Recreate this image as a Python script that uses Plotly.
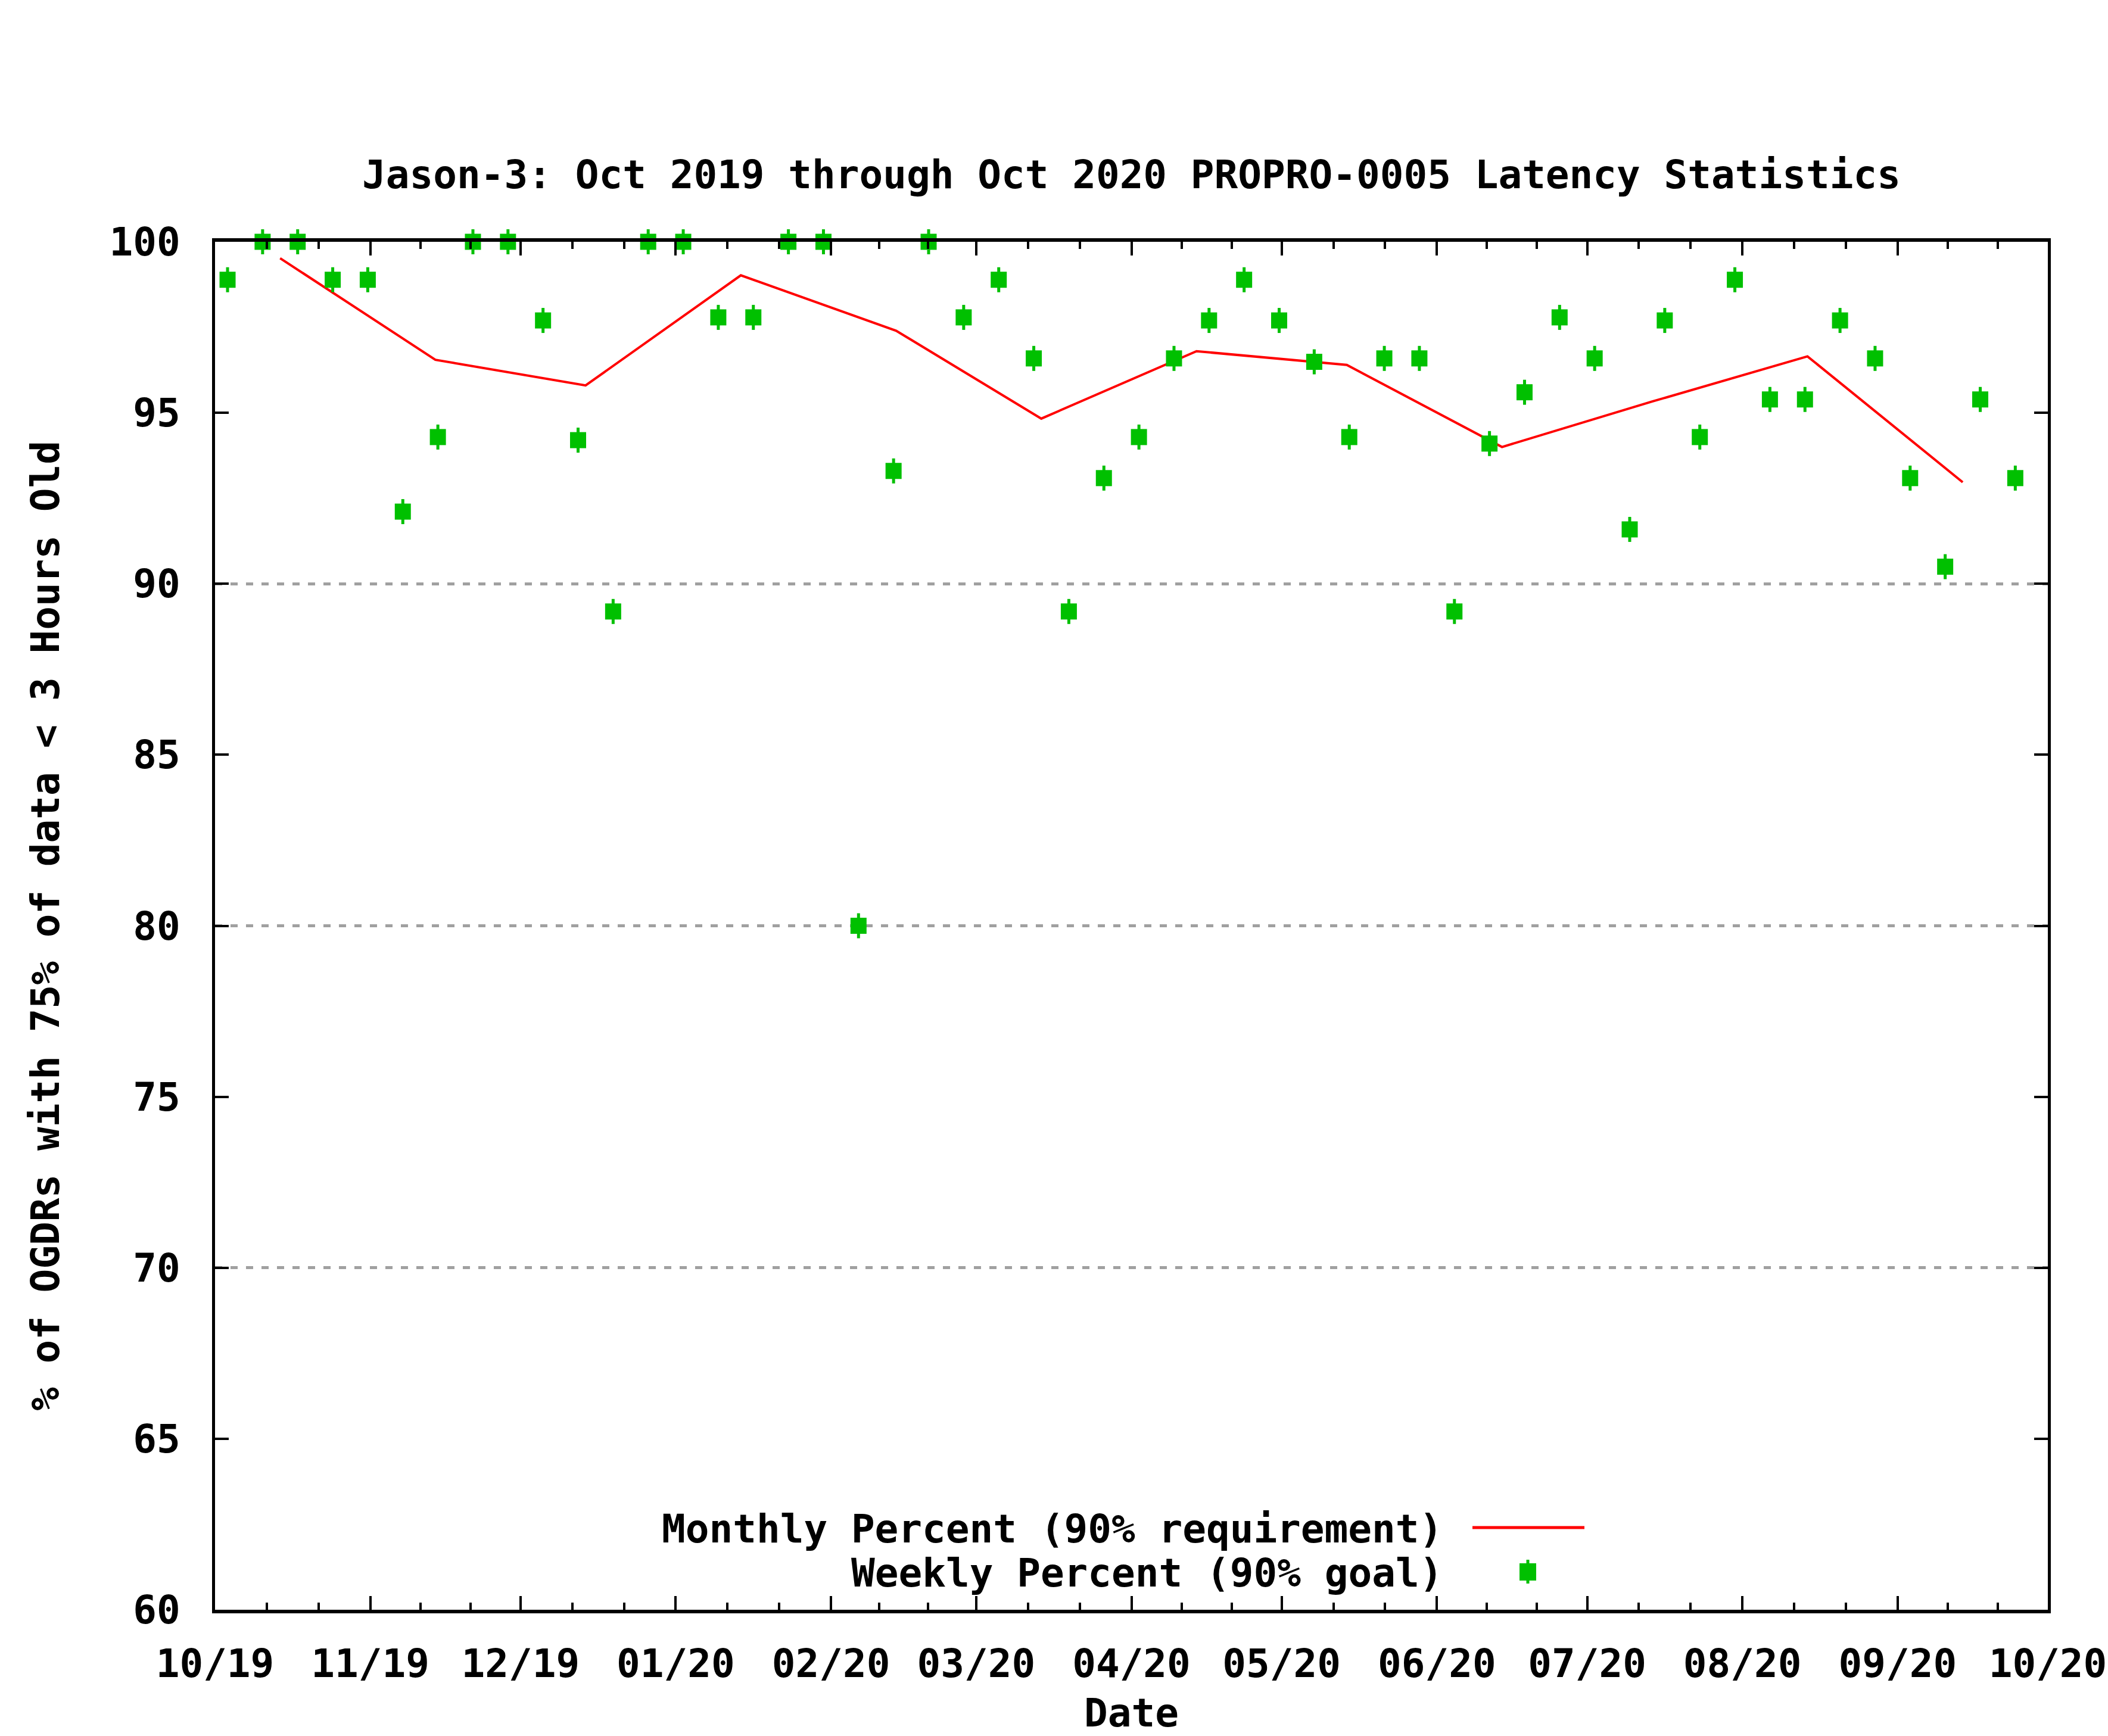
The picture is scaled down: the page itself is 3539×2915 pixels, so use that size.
import plotly.graph_objects as go
import pandas as pd

# ---------------- data ----------------
monthly_dates = ["2019-10-14", "2019-11-14", "2019-12-14", "2020-01-14", "2020-02-14",
                 "2020-03-14", "2020-04-14", "2020-05-14", "2020-06-14", "2020-07-14",
                 "2020-08-14", "2020-09-14"]
monthly_pct = [99.52, 96.55, 95.80, 99.02, 97.40, 94.83, 96.80, 96.40, 94.00, 95.33,
               96.65, 92.97]

weekly_dates = ["2019-10-03", "2019-10-10", "2019-10-17", "2019-10-24", "2019-10-31",
                "2019-11-07", "2019-11-14", "2019-11-21", "2019-11-28", "2019-12-05",
                "2019-12-12", "2019-12-19", "2019-12-26", "2020-01-02", "2020-01-09",
                "2020-01-16", "2020-01-23", "2020-01-30", "2020-02-06", "2020-02-13",
                "2020-02-20", "2020-02-27", "2020-03-05", "2020-03-12", "2020-03-19",
                "2020-03-26", "2020-04-02", "2020-04-09", "2020-04-16", "2020-04-23",
                "2020-04-30", "2020-05-07", "2020-05-14", "2020-05-21", "2020-05-28",
                "2020-06-04", "2020-06-11", "2020-06-18", "2020-06-25", "2020-07-02",
                "2020-07-09", "2020-07-16", "2020-07-23", "2020-07-30", "2020-08-06",
                "2020-08-13", "2020-08-20", "2020-08-27", "2020-09-03", "2020-09-10",
                "2020-09-17", "2020-09-24"]
weekly_dates = [d + " 12:00" for d in weekly_dates]
weekly_pct = [98.89, 100, 100, 98.89, 98.89, 92.11, 94.29, 100, 100, 97.70,
              94.20, 89.19, 100, 100, 97.79, 97.79, 100, 100, 80.0, 93.30,
              100, 97.79, 98.89, 96.59, 89.19, 93.09, 94.29, 96.59, 97.70, 98.89,
              97.70, 96.49, 94.29, 96.59, 96.59, 89.19, 94.10, 95.60, 97.79, 96.59,
              91.59, 97.70, 94.29, 98.89, 95.39, 95.39, 97.70, 96.59, 93.09, 90.50,
              95.39, 93.09]

title_text = "Jason-3: Oct 2019 through Oct 2020 PROPRO-0005 Latency Statistics"
y_title = "% of OGDRs with 75% of data < 3 Hours Old"
x_title = "Date"
monthly_label = "Monthly Percent (90% requirement)"
weekly_label = "Weekly Percent (90% goal)"
y_ticks = [60, 65, 70, 75, 80, 85, 90, 95, 100]
x_start, x_end = "2019-10-01", "2020-10-01"

RED = "#ff0000"
GREEN = "#00c000"
FONT = "DejaVu Sans Mono"
FS = 66

# minor x ticks: thirds of each month
month_starts = pd.date_range(x_start, x_end, freq="MS")
minor_vals = []
for a, b in zip(month_starts[:-1], month_starts[1:]):
    for k in (1, 2):
        minor_vals.append(a + (b - a) * k / 3)

fig = go.Figure()

fig.add_trace(go.Scatter(
    x=monthly_dates, y=monthly_pct, mode="lines",
    line=dict(color=RED, width=4), showlegend=False, cliponaxis=False,
))
# whiskers of weekly markers
fig.add_trace(go.Scatter(
    x=weekly_dates, y=weekly_pct, mode="markers", showlegend=False, cliponaxis=False,
    marker=dict(symbol="line-ns", size=30, line=dict(color=GREEN, width=5)),
))
# body of weekly markers
fig.add_trace(go.Scatter(
    x=weekly_dates, y=weekly_pct, mode="markers", showlegend=False, cliponaxis=False,
    marker=dict(symbol="square", size=27, color=GREEN, line=dict(width=0)),
))

# ----- manual gnuplot-style key -----
W = 3539
H = 2915
L, R, T, B = 361, W - 3438, 406, H - 2703
pw, ph = W - L - R, H - T - B


def px(x):
    return (x - L) / pw


def py(y):
    return (H - B - y) / ph


annotations = [
    dict(text=monthly_label, x=px(2424), y=py(2567), xref="paper", yref="paper",
         xanchor="right", yanchor="middle", showarrow=False),
    dict(text=weekly_label, x=px(2424), y=py(2641), xref="paper", yref="paper",
         xanchor="right", yanchor="middle", showarrow=False),
]
shapes = [
    dict(type="line", xref="paper", yref="paper", x0=px(2472), x1=px(2660),
         y0=py(2565), y1=py(2565), line=dict(color=RED, width=5)),
    dict(type="line", xref="paper", yref="paper", x0=px(2565), x1=px(2565),
         y0=py(2619), y1=py(2659), line=dict(color=GREEN, width=5)),
    dict(type="rect", xref="paper", yref="paper", x0=px(2551), x1=px(2579),
         y0=py(2625), y1=py(2654), line=dict(width=0), fillcolor=GREEN),
]

tfont = dict(family=FONT, size=FS, color="black", weight="bold")

fig.update_layout(
    width=W, height=H,
    margin=dict(l=L, r=R, t=T, b=B, autoexpand=False),
    paper_bgcolor="white", plot_bgcolor="white",
    font=tfont,
    title=dict(text=title_text, x=0.5, xref="paper", xanchor="center",
               y=1 - 293 / H, yref="container", yanchor="middle", font=tfont),
    showlegend=False,
    annotations=annotations,
    shapes=shapes,
    xaxis=dict(
        type="date", range=[x_start, x_end], automargin=False,
        tickmode="linear", tick0=x_start, dtick="M1", tickformat="%m/%y",
        ticks="inside", ticklen=23, tickwidth=4, tickcolor="black",
        showline=True, linecolor="black", linewidth=6, mirror="ticks",
        showgrid=False, zeroline=False, ticklabelstandoff=28,
        tickfont=tfont,
        minor=dict(tickmode="array", tickvals=minor_vals, ticks="inside",
                   ticklen=12, tickwidth=4, tickcolor="black", showgrid=False),
        title=dict(text=x_title, standoff=52, font=tfont),
    ),
    yaxis=dict(
        range=[60, 100], tickmode="array", tickvals=y_ticks, automargin=False,
        ticks="inside", ticklen=23, tickwidth=4, tickcolor="black",
        showline=True, linecolor="black", linewidth=5, mirror="ticks",
        showgrid=False, zeroline=False, ticklabelstandoff=40,
        tickfont=tfont,
        minor=dict(tickmode="array", tickvals=[70, 80, 90], ticks="",
                   showgrid=True, gridcolor="#a0a0a0", gridwidth=5,
                   griddash="12px,14px"),
        title=dict(text=y_title, standoff=64, font=tfont),
    ),
)

fig.write_html("out.html", config={"displayModeBar": False},
               post_script="document.body.style.margin='0';")
